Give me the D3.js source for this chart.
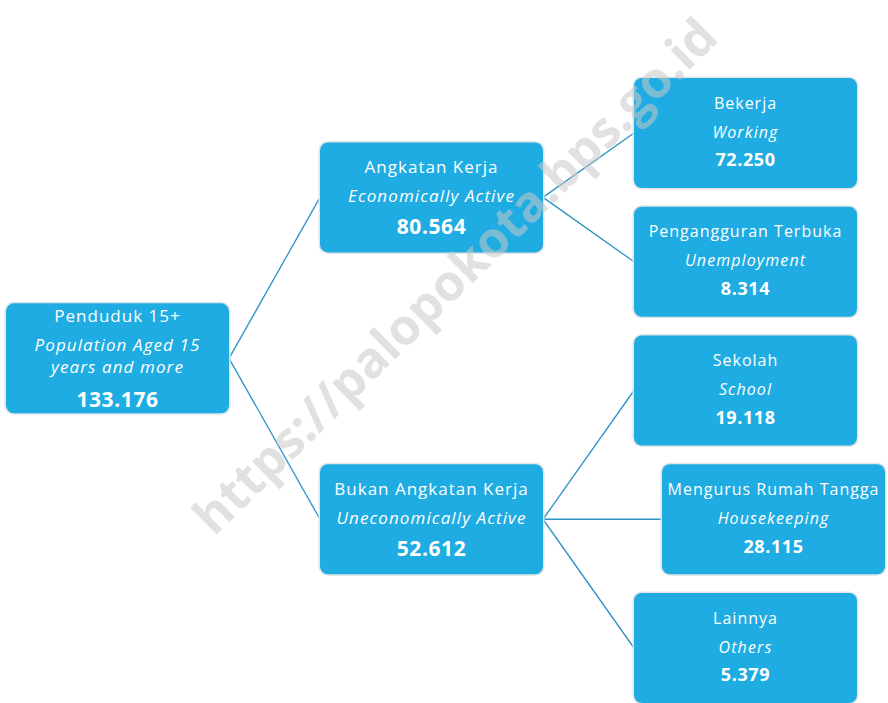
<!DOCTYPE html>
<html>
<head>
<meta charset="utf-8">
<script src="https://cdn.jsdelivr.net/npm/d3@7"></script>
<style>
  body { margin: 0; background: #fff; }
  svg { display: block; }
</style>
</head>
<body>
<div id="chart"></div>
<script>
var svgWidth = 888;
var svgHeight = 703;

// node data
var ids = ["pop", "ak", "bak", "kerja", "nganggur", "sekolah", "rt", "lain"];
var parents = ["", "pop", "pop", "ak", "ak", "bak", "bak", "bak"];
var titles = ["Penduduk 15+", "Angkatan Kerja", "Bukan Angkatan Kerja", "Bekerja",
              "Pengangguran Terbuka", "Sekolah", "Mengurus Rumah Tangga", "Lainnya"];
var english = [["Population Aged 15", "years and more"], ["Economically Active"], ["Uneconomically Active"],
               ["Working"], ["Unemployment"], ["School"], ["Housekeeping"], ["Others"]];
var values = ["133.176", "80.564", "52.612", "72.250", "8.314", "19.118", "28.115", "5.379"];

var rows = ids.map(function(id, i) {
    return { id: id, parent: parents[i], title: titles[i], eng: english[i], value: values[i] };
});

var boxW = 223, boxH = 110;

var svg = d3.select("#chart")
            .append("svg")
            .attr("width", svgWidth)
            .attr("height", svgHeight);

var root = d3.stratify()
             .id(function(d) { return d.id; })
             .parentId(function(d) { return d.parent || null; })(rows);

d3.tree().nodeSize([1, 1]).separation(function() { return 1; })(root);

var nodes = root.descendants();
var yScale = d3.scaleLinear()
               .domain(d3.extent(nodes, function(d) { return d.x; }))
               .range([133, 648]);
var xScale = d3.scaleLinear()
               .domain([0, 2])
               .range([6, 634]);

// the housekeeping box sits a little to the right in the original
nodes.forEach(function(d) {
    d.cy = yScale(d.x);
    d.left = xScale(d.depth) + (d.id === "rt" ? 28 : 0);
});

// links
svg.append("g")
   .selectAll("line")
   .data(root.links())
   .enter()
   .append("line")
   .attr("x1", function(d) { return d.source.left + boxW; })
   .attr("y1", function(d) { return d.source.cy; })
   .attr("x2", function(d) { return d.target.left; })
   .attr("y2", function(d) { return d.target.cy; })
   .attr("stroke", "#2b93c6")
   .attr("stroke-width", 1.3);

var node = svg.append("g")
              .selectAll("g")
              .data(nodes)
              .enter()
              .append("g")
              .attr("transform", function(d) { return `translate(${d.left}, ${d.cy - boxH / 2})`; });

node.append("rect")
    .attr("x", -1.5).attr("y", -1.5)
    .attr("width", boxW + 3).attr("height", boxH + 3)
    .attr("rx", 9)
    .attr("fill", "#dfe5e8");

node.append("rect")
    .attr("width", boxW).attr("height", boxH)
    .attr("rx", 8)
    .attr("fill", "#1eace2");

var fontFam = "'Open Sans', 'DejaVu Sans', sans-serif";

node.each(function(d) {
    var g = d3.select(this);
    var n = d.data.eng.length;
    var big = d.depth < 2;
    var cx = boxW / 2, c = boxH / 2;
    g.append("text")
     .attr("x", cx).attr("y", c - 30 - 12 * (n - 1))
     .attr("dy", "0.35em")
     .attr("text-anchor", "middle")
     .attr("fill", "#fff")
     .style("font-family", fontFam)
     .style("font-size", big ? "17px" : "16px")
     .style("letter-spacing", "1px")
     .text(d.data.title);
    d.data.eng.forEach(function(t, i) {
        g.append("text")
         .attr("x", cx).attr("y", c - 1 - 12 * (n - 1) + 22 * i)
         .attr("dy", "0.35em")
         .attr("text-anchor", "middle")
         .attr("fill", "#fff")
         .style("font-family", fontFam)
         .style("font-style", "italic")
         .style("font-size", big ? "17px" : "16px")
         .style("letter-spacing", "1.1px")
         .text(t);
    });
    g.append("text")
     .attr("x", cx).attr("y", c + 29 + 12 * (n - 1) - (big ? 0 : 2))
     .attr("dy", "0.35em")
     .attr("text-anchor", "middle")
     .attr("fill", "#fff")
     .style("font-family", fontFam)
     .style("font-weight", "bold")
     .style("font-size", big ? "21px" : "18px")
     .style("letter-spacing", "0.6px")
     .text(d.data.value);
});

// watermark
svg.append("text")
   .attr("transform", "translate(455, 276) rotate(-44.5)")
   .attr("text-anchor", "middle")
   .attr("dy", "0.35em")
   .attr("fill", "#c8c8c8")
   .attr("fill-opacity", 0.55)
   .style("font-family", "'Open Sans', sans-serif")
   .style("font-weight", "bold")
   .style("font-size", "50px")
   .text("https://palopokota.bps.go.id");
</script>
</body>
</html>
